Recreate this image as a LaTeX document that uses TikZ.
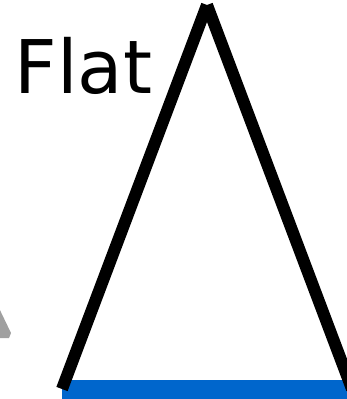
\documentclass[tikz,border=0pt]{standalone}
\usepackage{fontspec}
\setmainfont{DejaVu Sans}
\definecolor{baseblue}{RGB}{0,102,204}
\definecolor{markgray}{RGB}{160,160,160}

\begin{document}
\begin{tikzpicture}[x=1pt, y=-1pt]
  \useasboundingbox (0,0) rectangle (347,399);
  \clip (0,0) rectangle (347,399);

  \coordinate (apex) at (207,5);
  \coordinate (baseL) at (62,389);
  \coordinate (baseR) at (352,389);

  % base and cut-off grey mark
  \draw[baseblue, line width=19pt] (baseL) -- (baseR);
  \fill[markgray] (-2,306) -- (11,333) -- (9,338) -- (-2,338) -- cycle;

  % the two sides
  \draw[line width=12pt] (apex) -- (baseL);
  \draw[line width=12pt] (apex) -- (baseR);

  \node[anchor=base west, inner sep=0pt, font=\fontsize{74}{88}\selectfont] (flat) at (14.5,93.5) {Flat};
\end{tikzpicture}
\end{document}
